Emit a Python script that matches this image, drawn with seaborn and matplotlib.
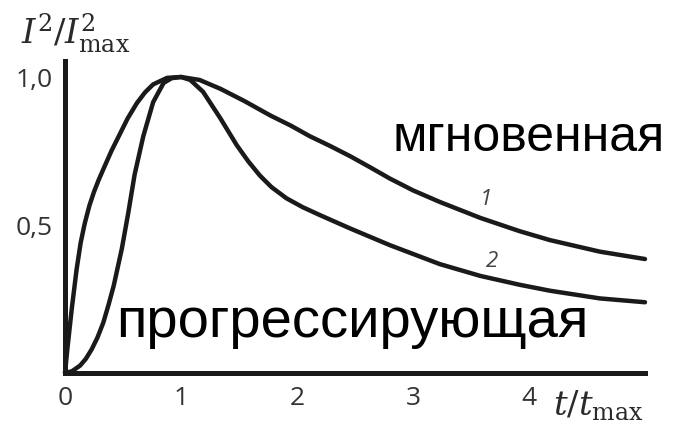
import matplotlib
matplotlib.use("Agg")
import matplotlib.pyplot as plt
import seaborn as sns
import pandas as pd

# Curve 1 (instantaneous)
t1 = [0, 0.02, 0.058, 0.10, 0.135, 0.17, 0.21, 0.25, 0.29, 0.33, 0.40, 0.47, 0.54, 0.62, 0.69, 0.76, 0.88, 1.0,
      1.16, 1.34, 1.55, 1.77, 1.95, 2.11, 2.28, 2.46, 2.63, 2.80, 3.0, 3.23, 3.58, 3.92, 4.18, 4.61, 5.0]
y1 = [0, 0.08, 0.216, 0.35, 0.44, 0.505, 0.565, 0.612, 0.652, 0.688, 0.75, 0.805, 0.86, 0.912, 0.948, 0.975, 0.997, 1.0,
      0.99, 0.96, 0.918, 0.87, 0.835, 0.80, 0.768, 0.732, 0.695, 0.657, 0.617, 0.578, 0.524, 0.479, 0.449, 0.41, 0.385]

# Curve 2 (progressive)
t2 = [0, 0.06, 0.13, 0.18, 0.23, 0.28, 0.33, 0.375, 0.42, 0.49, 0.545, 0.60, 0.675, 0.76, 0.85, 0.92, 1.0,
      1.08, 1.19, 1.34, 1.48, 1.58, 1.68, 1.78, 1.91, 2.05, 2.20, 2.46, 2.80, 3.23, 3.58, 3.92, 4.18, 4.61, 5.0]
y2 = [0, 0.006, 0.025, 0.048, 0.08, 0.12, 0.17, 0.23, 0.295, 0.42, 0.54, 0.67, 0.80, 0.915, 0.98, 0.996, 1.0,
      0.99, 0.95, 0.86, 0.77, 0.715, 0.667, 0.628, 0.59, 0.56, 0.533, 0.488, 0.432, 0.368, 0.328, 0.298, 0.278, 0.252, 0.239]

xticks = [0, 1, 2, 3, 4]
xticklabels = ["0", "1", "2", "3", "4"]
yticks = [0.5, 1.0]
yticklabels = ["0,5", "1,0"]

df1 = pd.DataFrame({"t": t1, "v": y1})
df2 = pd.DataFrame({"t": t2, "v": y2})

sns.set_theme(style="white")
plt.rcParams["font.family"] = ["Open Sans", "DejaVu Sans"]
plt.rcParams["mathtext.fontset"] = "dejavuserif"

fig = plt.figure(figsize=(6.82, 4.27), dpi=100)
ax = fig.add_axes([65 / 682, 53 / 427, 580 / 682, 312 / 427])

ink = "#1a1a1a"
for d in (df1, df2):
    sns.lineplot(data=d, x="t", y="v", ax=ax, color=ink, linewidth=3.2,
                 clip_on=False, solid_capstyle="round", solid_joinstyle="round", sort=True)

ax.set_xlim(0, 5.0)
ax.set_ylim(0, 1.054)
for s in ("top", "right"):
    ax.spines[s].set_visible(False)
for s in ("left", "bottom"):
    ax.spines[s].set_linewidth(3.6)
    ax.spines[s].set_color(ink)

ax.set_xticks(xticks)
ax.set_xticklabels(xticklabels)
ax.set_yticks(yticks)
ax.set_yticklabels(yticklabels)
ax.tick_params(axis="both", direction="in", length=11, width=3.4, color=ink,
               labelcolor="#333333", labelsize=19)
ax.tick_params(axis="x", pad=9)
ax.tick_params(axis="y", pad=9)

ax.set_xlabel(r"$t/t_{\mathrm{max}}$", fontsize=24.5, color="#2a2a2a")
ax.xaxis.set_label_coords(0.92, -0.105)
ax.set_ylabel(r"$I^2/I^2_{\mathrm{max}}$", fontsize=24.5, color="#2a2a2a", rotation=0)
ax.yaxis.set_label_coords(0.018, 1.09)
ax.yaxis.label.set_ha("center")
ax.yaxis.label.set_va("center")
ax.xaxis.label.set_va("center")

ax.text(3.63, 0.588, "1", fontsize=16, color="#444444", style="italic",
        ha="center", va="center")
ax.text(3.68, 0.38, "2", fontsize=16, color="#444444", style="italic",
        ha="center", va="center")

ax.text(2.82, 0.753, "мгновенная", fontsize=36, color="black",
        family=["Liberation Sans", "DejaVu Sans"], ha="left", va="baseline", clip_on=False)
ax.text(0.44, 0.125, "прогрессирующая", fontsize=40.5, color="black",
        family=["Liberation Sans", "DejaVu Sans"], ha="left", va="baseline")

fig.savefig("out.png", dpi=100)
